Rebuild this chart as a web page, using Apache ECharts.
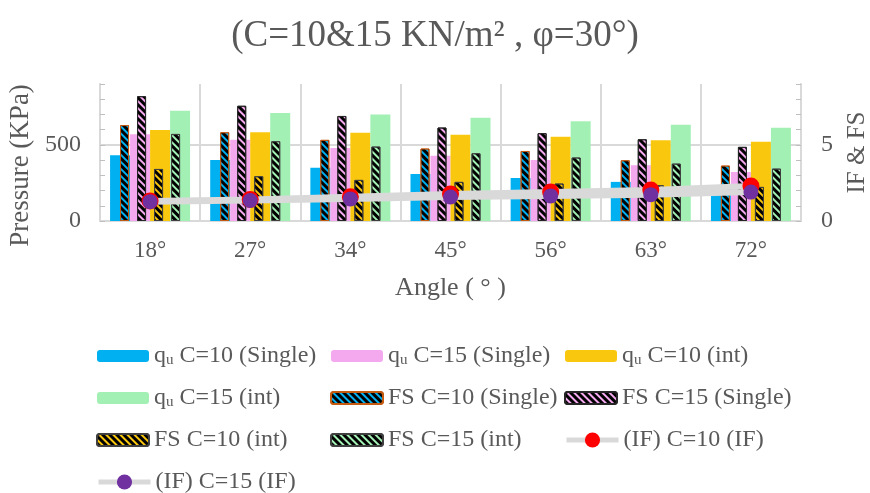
<!DOCTYPE html>
<html>
<head>
<meta charset="utf-8">
<script src="https://cdn.jsdelivr.net/npm/echarts@6/dist/echarts.min.js"></script>
<style>html,body{margin:0;padding:0;background:#fff;}#c{width:870px;height:493px;}</style>
</head>
<body>
<div id="c"></div>
<script>
const categories = ['18°', '27°', '34°', '45°', '56°', '63°', '72°'];
const quC10Single = [432, 401, 349, 309, 283, 257, 211];
const quC15Single = [570, 533, 480, 428, 401, 366, 322];
const quC10Int = [597, 583, 579, 566, 553, 531, 520];
const quC15Int = [724, 710, 699, 678, 656, 632, 612];
const fsC10Single = [6.3, 5.83, 5.33, 4.76, 4.6, 3.99, 3.64];
const fsC15Single = [8.2, 7.57, 6.9, 6.14, 5.77, 5.37, 4.87];
const fsC10Int = [3.42, 2.94, 2.7, 2.57, 2.46, 2.35, 2.24];
const fsC15Int = [5.72, 5.24, 4.89, 4.45, 4.17, 3.77, 3.44];
const ifC10 = [1.32, 1.42, 1.6, 1.78, 1.9, 2.03, 2.3];
const ifC15 = [1.27, 1.35, 1.45, 1.58, 1.65, 1.73, 1.9];
const leftLabels = [0, 500];
const rightLabels = [0, 5];

const FONT = '"Liberation Serif", "Times New Roman", serif';
const TXT = '#595959';
const GRID = '#d9d9d9';

function decal() {
  return { symbol: 'rect', symbolSize: 1, dashArrayX: [1, 0], dashArrayY: [2.5, 2], rotation: Math.PI / 4, color: '#000' };
}
function qbar(name, data, color) {
  return { name, type: 'bar', xAxisIndex: 0, yAxisIndex: 0, data, barWidth: 20, barGap: '0%',
    itemStyle: { color } };
}
function fbar(name, data, color, border) {
  return { name, type: 'bar', xAxisIndex: 1, yAxisIndex: 1, data, barWidth: 9, barGap: '89%',
    itemStyle: { color, borderColor: border, borderWidth: 1, decal: decal() } };
}
function line(name, data, color, size) {
  return { name, type: 'line', xAxisIndex: 0, yAxisIndex: 1, data, symbol: 'circle', symbolSize: size,
    lineStyle: { color: GRID, width: 6 }, itemStyle: { color }, z: 5 };
}
const splitColors = [];
for (let i = 0; i < 10; i++) splitColors.push(i === 5 ? GRID : 'rgba(0,0,0,0)');

const LFS = 24;
const legendText = {
  fontFamily: FONT, fontSize: LFS, color: TXT, lineHeight: 24,
  rich: {
    n: { fontFamily: FONT, fontSize: LFS, color: TXT, lineHeight: 24 },
    s: { fontFamily: FONT, fontSize: 15, color: TXT, lineHeight: 24, verticalAlign: 'bottom', padding: [7, 0, 0, 0] }
  }
};
function fmt(name) {
  if (name.indexOf('qu') === 0) return '{n|q}{s|u}{n|' + name.slice(2) + '}';
  return '{n|' + name + '}';
}
function legend(left, top, data, ih) {
  return { orient: 'vertical', left, top, itemWidth: 52, itemHeight: ih || 12, itemGap: 18,
    textStyle: legendText, formatter: fmt, data, selectedMode: false, padding: 0,
    lineStyle: { width: 5, color: GRID } };
}

const option = {
  backgroundColor: '#fff',
  animation: false,
  title: { text: '(C=10&15 KN/m² , φ=30°)', left: 'center', top: 13,
    textStyle: { fontFamily: FONT, fontSize: 37, fontWeight: 'normal', color: TXT } },
  grid: { left: 100, right: 69, top: 84, bottom: 272, containLabel: false, outerBoundsMode: 'none' },
  legend: [
    legend(96, 344, ['qu C=10 (Single)', 'qu C=15 (int)', 'FS C=10 (int)']),
    legend(330, 344, ['qu C=15 (Single)', 'FS C=10 (Single)', 'FS C=15 (int)']),
    legend(564, 344, ['qu C=10 (int)', 'FS C=15 (Single)']),
    legend(564, 428, ['(IF) C=10 (IF)'], 19),
    legend(96, 470, ['(IF) C=15 (IF)'], 19)
  ],
  xAxis: [
    { type: 'category', data: categories, boundaryGap: true,
      name: 'Angle ( ° )', nameLocation: 'middle', nameGap: 54,
      nameTextStyle: { fontFamily: FONT, fontSize: 26, color: TXT },
      axisLine: { lineStyle: { color: GRID, width: 2 } }, axisTick: { show: false },
      axisLabel: { fontFamily: FONT, fontSize: 23, color: TXT, margin: 18 },
      splitLine: { show: true, interval: 0, lineStyle: { color: GRID, width: 2 } } },
    { type: 'category', data: categories, show: false, boundaryGap: true }
  ],
  yAxis: [
    { type: 'value', min: 0, max: 900, interval: 100, position: 'left',
      name: 'Pressure (KPa)', nameLocation: 'middle', nameGap: 63,
      nameTextStyle: { fontFamily: FONT, fontSize: 27, color: TXT, padding: [0, 26, 0, 0] },
      axisLine: { show: true, lineStyle: { color: GRID, width: 2 } },
      axisTick: { show: true, inside: true, length: 5, lineStyle: { color: '#bfbfbf' } },
      axisLabel: { fontFamily: FONT, fontSize: 24, color: TXT, margin: 19,
        formatter: v => (leftLabels.indexOf(v) >= 0 ? String(v) : '') },
      splitLine: { show: true, lineStyle: { color: splitColors, width: 2 } } },
    { type: 'value', min: 0, max: 9, interval: 1, position: 'right',
      name: 'IF & FS', nameLocation: 'middle', nameGap: 44,
      nameTextStyle: { fontFamily: FONT, fontSize: 25, color: TXT },
      axisLine: { show: true, lineStyle: { color: GRID, width: 2 } },
      axisTick: { show: true, inside: true, length: 5, lineStyle: { color: '#bfbfbf' } },
      axisLabel: { fontFamily: FONT, fontSize: 24, color: TXT, margin: 20,
        formatter: v => (rightLabels.indexOf(v) >= 0 ? String(v) : '') },
      splitLine: { show: false } }
  ],
  series: [
    qbar('qu C=10 (Single)', quC10Single, '#00B0F0'),
    qbar('qu C=15 (Single)', quC15Single, '#F4A8EE'),
    qbar('qu C=10 (int)', quC10Int, '#FAC70F'),
    qbar('qu C=15 (int)', quC15Int, '#A3F0B5'),
    fbar('FS C=10 (Single)', fsC10Single, '#00B0F0', '#C55A11'),
    fbar('FS C=15 (Single)', fsC15Single, '#F4A8EE', '#262626'),
    fbar('FS C=10 (int)', fsC10Int, '#FAC70F', '#404040'),
    fbar('FS C=15 (int)', fsC15Int, '#A3F0B5', '#404040'),
    line('(IF) C=10 (IF)', ifC10, '#FF0000', 17),
    line('(IF) C=15 (IF)', ifC15, '#7030A0', 15)
  ]
};
const chart = echarts.init(document.getElementById('c'), null, { renderer: 'canvas' });
chart.setOption(option);
</script>
</body>
</html>
